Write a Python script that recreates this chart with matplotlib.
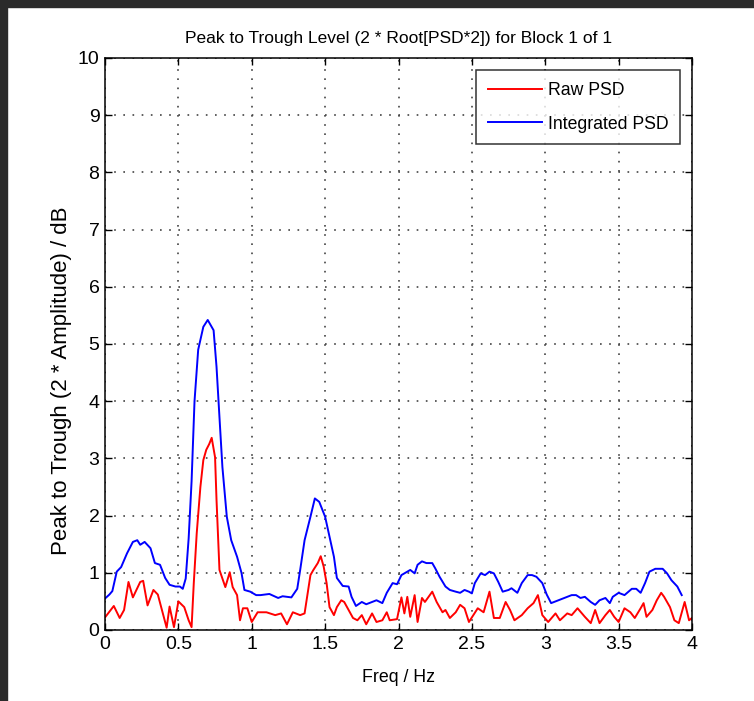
import matplotlib
matplotlib.use("Agg")
import matplotlib.pyplot as plt
from matplotlib.patches import Rectangle

# raw PSD (peak to trough)
raw_freq = [0.00, 0.06, 0.10, 0.13, 0.16, 0.19, 0.24, 0.26, 0.29, 0.33, 0.36, 0.39, 0.42, 0.44,
	0.47, 0.50, 0.54, 0.57, 0.59, 0.605, 0.625, 0.65, 0.67, 0.69, 0.71, 0.727, 0.75, 0.76,
	0.78, 0.82, 0.85, 0.87, 0.90, 0.92, 0.94, 0.97, 1.00, 1.04, 1.10, 1.16, 1.20, 1.24, 1.28,
	1.33, 1.36, 1.40, 1.42, 1.45, 1.47, 1.49, 1.51, 1.53, 1.56, 1.58, 1.61, 1.63, 1.66, 1.69,
	1.72, 1.75, 1.78, 1.82, 1.85, 1.89, 1.92, 1.94, 1.99, 2.02, 2.04, 2.06, 2.08, 2.11, 2.13,
	2.16, 2.18, 2.23, 2.26, 2.30, 2.32, 2.35, 2.39, 2.42, 2.45, 2.48, 2.51, 2.54, 2.58, 2.62,
	2.65, 2.69, 2.73, 2.76, 2.79, 2.84, 2.88, 2.92, 2.95, 2.98, 3.02, 3.07, 3.10, 3.15, 3.18,
	3.22, 3.27, 3.31, 3.34, 3.37, 3.41, 3.44, 3.47, 3.50, 3.54, 3.58, 3.61, 3.65, 3.67, 3.69,
	3.73, 3.76, 3.79, 3.81, 3.85, 3.88, 3.91, 3.95, 3.98, 4.00]
raw_psd = [0.22, 0.42, 0.21, 0.35, 0.84, 0.57, 0.84, 0.86, 0.43, 0.70, 0.62, 0.33, 0.04, 0.41,
	0.05, 0.50, 0.40, 0.17, 0.05, 0.82, 1.69, 2.50, 2.97, 3.15, 3.25, 3.36, 3.02, 2.27,
	1.05, 0.75, 1.01, 0.75, 0.61, 0.17, 0.38, 0.38, 0.14, 0.31, 0.31, 0.26, 0.29, 0.10, 0.31,
	0.26, 0.29, 0.96, 1.05, 1.17, 1.29, 1.11, 0.82, 0.40, 0.26, 0.40, 0.52, 0.49, 0.35, 0.21,
	0.17, 0.26, 0.10, 0.29, 0.14, 0.17, 0.31, 0.17, 0.19, 0.57, 0.29, 0.58, 0.23, 0.61, 0.14,
	0.56, 0.49, 0.67, 0.49, 0.31, 0.35, 0.21, 0.31, 0.44, 0.38, 0.14, 0.26, 0.38, 0.31, 0.67,
	0.21, 0.21, 0.49, 0.35, 0.17, 0.26, 0.38, 0.47, 0.61, 0.26, 0.14, 0.29, 0.17, 0.29, 0.26,
	0.38, 0.23, 0.12, 0.35, 0.12, 0.26, 0.35, 0.23, 0.14, 0.38, 0.31, 0.21, 0.38, 0.47, 0.23,
	0.35, 0.52, 0.65, 0.58, 0.40, 0.17, 0.12, 0.49, 0.17, 0.21]

# integrated PSD
int_freq = [0.00, 0.03, 0.05, 0.08, 0.11, 0.15, 0.19, 0.22, 0.24, 0.27, 0.31, 0.34, 0.375, 0.41,
	0.44, 0.48, 0.51, 0.53, 0.55, 0.57, 0.59, 0.61, 0.635, 0.67, 0.70, 0.74, 0.76, 0.78, 0.80,
	0.83, 0.86, 0.90, 0.93, 0.95, 0.99, 1.03, 1.06, 1.12, 1.18, 1.21, 1.27, 1.31, 1.33, 1.36,
	1.40, 1.43, 1.46, 1.50, 1.53, 1.56, 1.58, 1.62, 1.66, 1.68, 1.71, 1.75, 1.78, 1.82, 1.85,
	1.89, 1.92, 1.96, 1.99, 2.02, 2.06, 2.08, 2.11, 2.13, 2.16, 2.19, 2.23, 2.25, 2.28, 2.32,
	2.35, 2.39, 2.42, 2.45, 2.48, 2.50, 2.52, 2.56, 2.59, 2.62, 2.65, 2.68, 2.71, 2.75, 2.77,
	2.81, 2.84, 2.88, 2.91, 2.94, 2.98, 3.01, 3.04, 3.09, 3.13, 3.18, 3.21, 3.24, 3.27, 3.31,
	3.34, 3.37, 3.41, 3.44, 3.46, 3.50, 3.54, 3.59, 3.62, 3.65, 3.68, 3.71, 3.75, 3.80, 3.83,
	3.86, 3.90, 3.93]
int_psd = [0.55, 0.62, 0.68, 1.02, 1.10, 1.34, 1.54, 1.57, 1.49, 1.54, 1.43, 1.17, 1.14, 0.91,
	0.79, 0.76, 0.76, 0.72, 0.90, 1.60, 2.60, 4.00, 4.90, 5.30, 5.42, 5.24, 4.60, 3.72, 2.85,
	1.98, 1.57, 1.28, 1.00, 0.70, 0.67, 0.61, 0.61, 0.63, 0.56, 0.59, 0.57, 0.72, 1.05, 1.57,
	1.98, 2.30, 2.24, 1.98, 1.63, 1.28, 0.91, 0.77, 0.76, 0.58, 0.42, 0.49, 0.45, 0.49, 0.52,
	0.47, 0.65, 0.82, 0.80, 0.96, 1.02, 1.05, 0.99, 1.14, 1.20, 1.17, 1.17, 1.08, 0.93, 0.76,
	0.70, 0.67, 0.65, 0.70, 0.67, 0.64, 0.82, 0.99, 0.96, 1.02, 0.99, 0.84, 0.67, 0.70, 0.73,
	0.65, 0.82, 0.96, 0.96, 0.93, 0.82, 0.62, 0.47, 0.52, 0.56, 0.61, 0.61, 0.56, 0.58, 0.49,
	0.44, 0.52, 0.56, 0.47, 0.58, 0.65, 0.61, 0.72, 0.72, 0.65, 0.82, 1.02, 1.07, 1.07, 0.99,
	0.87, 0.76, 0.61]

x_ticks = [0, 0.5, 1, 1.5, 2, 2.5, 3, 3.5, 4]
x_labels = ["0", "0.5", "1", "1.5", "2", "2.5", "3", "3.5", "4"]
y_ticks = list(range(0, 11))

plt.rcParams['font.family'] = ["Liberation Sans", "DejaVu Sans"]

W, H = 754, 701
fig = plt.figure(figsize=(W / 100, H / 100), dpi=100)
fig.patch.set_facecolor("white")

# dark screenshot frame along top and left
fig.patches.append(Rectangle((0, 1 - 7 / H), 1, 7 / H, transform=fig.transFigure, color="#2b2b2b", zorder=0))
fig.patches.append(Rectangle((0, 0), 7 / W, 1, transform=fig.transFigure, color="#2b2b2b", zorder=0))

ax = fig.add_axes([105 / W, 1 - 630 / H, (692 - 105) / W, (630 - 58) / H])
ax.plot(raw_freq, raw_psd, color="#ff0000", lw=1.4, label="Raw PSD")
ax.plot(int_freq, int_psd, color="#0000ff", lw=1.4, label="Integrated PSD")

ax.set_xlim(0, 4)
ax.set_ylim(0, 10)
ax.set_xticks(x_ticks)
ax.set_xticklabels(x_labels)
ax.set_yticks(y_ticks)
ax.tick_params(direction="in", length=5, width=1, top=True, right=True, labelsize=14, pad=4, colors="black")
for s in ax.spines.values():
	s.set_linewidth(1.1)
	s.set_color("black")
ax.grid(True, color="#444444", linestyle=(0, (1, 4.5)), linewidth=1.2)

ax.set_title("Peak to Trough Level (2 * Root[PSD*2]) for Block 1 of 1", fontsize=12.5, pad=11)
ax.set_xlabel("Freq / Hz", fontsize=12.8, labelpad=12)
fig.text(62 / W, 1 - 381 / H, "Peak to Trough (2 * Amplitude) / dB", rotation=90,
	ha="center", va="center", fontsize=16)

leg = ax.legend(loc="upper right", fontsize=12.7, frameon=True, fancybox=False,
	handlelength=3.1, borderaxespad=0.7, labelspacing=0.95, handletextpad=0.3,
	borderpad=0.65)
leg.get_frame().set_edgecolor("black")
leg.get_frame().set_linewidth(1.1)

fig.savefig("out.png", dpi=100)
